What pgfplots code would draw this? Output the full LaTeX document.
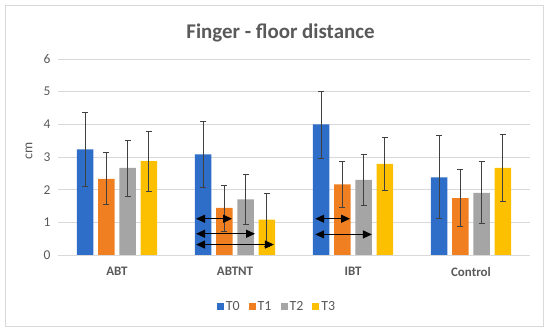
\documentclass[border=0pt]{standalone}
\usepackage{pgfplots}
\pgfplotsset{compat=1.18}
\usepackage{pgfplotstable}
\usepackage{fontspec}
\setmainfont{Carlito}
\usetikzlibrary{arrows.meta}
\definecolor{cT0}{HTML}{2E6DC8}
\definecolor{cT1}{HTML}{F07F22}
\definecolor{cT2}{HTML}{A5A5A5}
\definecolor{cT3}{HTML}{FDC000}
\definecolor{txt}{HTML}{595959}
\definecolor{grid}{HTML}{D9D9D9}
\definecolor{errc}{HTML}{404040}

\pgfplotstableread{
x y ep em
0 3.23 1.14 1.14
1 3.08 1.02 1.02
2 4.00 1.02 1.03
3 2.38 1.28 1.27
}\tzero
\pgfplotstableread{
x y ep em
0 2.33 0.80 0.77
1 1.44 0.69 0.71
2 2.16 0.70 0.69
3 1.74 0.88 0.85
}\tone
\pgfplotstableread{
x y ep em
0 2.67 0.85 0.87
1 1.70 0.77 0.77
2 2.30 0.78 0.78
3 1.90 0.97 0.94
}\ttwo
\pgfplotstableread{
x y ep em
0 2.87 0.92 0.92
1 1.08 0.81 0.81
2 2.79 0.81 0.81
3 2.67 1.03 1.02
}\tthree

\begin{document}
\begin{tikzpicture}
\path[use as bounding box] (0,0) rectangle (550bp,332bp);
\draw[grid, line width=0.8bp] (5bp,6bp) rectangle (543bp,327bp);
\node[font=\bfseries\fontsize{21}{24}\selectfont, text=txt] at (280.5bp,299bp) {Finger - floor distance};
\node[rotate=90, font=\fontsize{14}{16}\selectfont, text=txt] at (29bp,181bp) {cm};
\begin{axis}[
  at={(58bp,77bp)}, anchor=south west,
  scale only axis, width=472bp, height=196bp,
  ybar,
  xmin=-0.5, xmax=3.5, ymin=0, ymax=6,
  xtick={0,1,2,3}, xticklabels={ABT,ABTNT,IBT,Control},
  ytick={0,1,2,3,4,5,6},
  major tick length=0pt,
  axis line style={draw=none},
  axis x line*=bottom,
  x axis line style={draw=grid, line width=0.8bp},
  ymajorgrids, grid style={draw=grid, line width=0.8bp},
  /pgf/number format/assume math mode=true,
  yticklabel style={font=\fontsize{13.5}{15}\selectfont, text=txt, xshift=-4bp},
  xticklabel style={font=\bfseries\fontsize{13}{15}\selectfont, text=txt, yshift=-9bp},
  bar width=0.14,
  legend columns=4,
  legend style={draw=none, fill=none, at={(0.464,-0.265)}, anchor=center,
    font=\fontsize{14}{16}\selectfont, text=txt,
    /tikz/every even column/.append style={column sep=7bp}},
  legend image code/.code={\fill[#1,draw=none] (0bp,-3.5bp) rectangle (7bp,3.5bp);},
  error bars/y dir=both, error bars/y explicit,
  error bars/error bar style={draw=errc, line width=0.8bp},
  error bars/error mark options={draw=errc, rotate=90, mark size=3bp, line width=0.8bp},
]
\addplot[bar shift=-0.27, fill=cT0, draw=none] table[x=x,y=y,y error plus=ep,y error minus=em]{\tzero};
\addlegendentry{T0}
\addplot[bar shift=-0.09, fill=cT1, draw=none] table[x=x,y=y,y error plus=ep,y error minus=em]{\tone};
\addlegendentry{T1}
\addplot[bar shift=0.09, fill=cT2, draw=none] table[x=x,y=y,y error plus=ep,y error minus=em]{\ttwo};
\addlegendentry{T2}
\addplot[bar shift=0.27, fill=cT3, draw=none] table[x=x,y=y,y error plus=ep,y error minus=em]{\tthree};
\addlegendentry{T3}
% arrows
\addplot[forget plot, sharp plot, bar shift=0pt, no marks, black, line width=1.2bp, {Triangle[length=9bp,width=8bp]}-{Triangle[length=9bp,width=8bp]}] coordinates {(0.67,1.11) (0.975,1.11)};
\addplot[forget plot, sharp plot, bar shift=0pt, no marks, black, line width=1.2bp, {Triangle[length=9bp,width=8bp]}-{Triangle[length=9bp,width=8bp]}] coordinates {(0.67,0.65) (1.17,0.65)};
\addplot[forget plot, sharp plot, bar shift=0pt, no marks, black, line width=1.2bp, {Triangle[length=9bp,width=8bp]}-{Triangle[length=9bp,width=8bp]}] coordinates {(0.67,0.32) (1.33,0.32)};
\addplot[forget plot, sharp plot, bar shift=0pt, no marks, black, line width=1.2bp, {Triangle[length=9bp,width=8bp]}-{Triangle[length=9bp,width=8bp]}] coordinates {(1.68,1.11) (1.975,1.11)};
\addplot[forget plot, sharp plot, bar shift=0pt, no marks, black, line width=1.2bp, {Triangle[length=9bp,width=8bp]}-{Triangle[length=9bp,width=8bp]}] coordinates {(1.68,0.63) (2.16,0.63)};
\end{axis}
\end{tikzpicture}
\end{document}
